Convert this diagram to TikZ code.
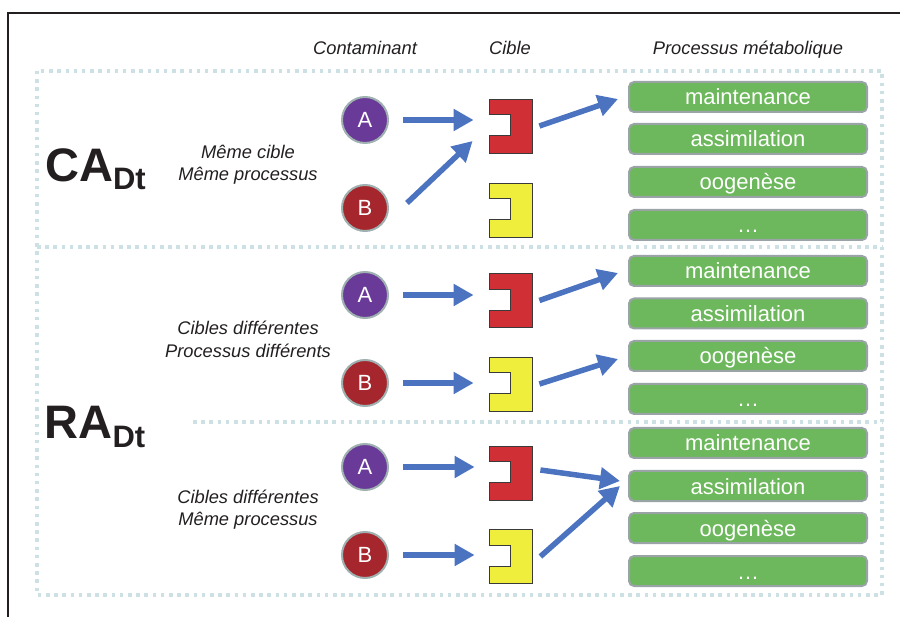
\documentclass[tikz,border=0pt]{standalone}
\usepackage{fontspec}
\setmainfont{Liberation Sans}
\usetikzlibrary{arrows.meta, positioning}

\definecolor{encre}{HTML}{231F20}
\definecolor{pointille}{HTML}{CDE1E4}
\definecolor{violet}{HTML}{6A3A99}
\definecolor{bordeaux}{HTML}{A5272D}
\definecolor{anneau}{HTML}{9FB1B0}
\definecolor{rouge}{HTML}{D12F36}
\definecolor{jaune}{HTML}{F0EE3C}
\definecolor{trait}{HTML}{3A3A3A}
\definecolor{vert}{HTML}{6DB85C}
\definecolor{bordvert}{HTML}{9AA3A6}
\definecolor{bleu}{HTML}{4B73BF}

% notch cut into the left side of a target
\newcommand{\encoche}[1]{%
  \fill[white] ([xshift=-1pt,yshift=-16pt]#1.north west) rectangle ([xshift=22pt,yshift=-37pt]#1.north west);
  \draw[line width=0.8pt, trait] ([yshift=-16pt]#1.north west) -| ([xshift=22pt,yshift=-37pt]#1.north west) -- ([yshift=-37pt]#1.north west);
}

\begin{document}
\begin{tikzpicture}[x=1pt, y=-1pt,
    titre/.style={font=\fontsize{18.3}{22}\selectfont\itshape, text=encre, anchor=base},
    note/.style={font=\fontsize{18.3}{22.5}\selectfont\itshape, text=encre, align=center},
    grand/.style={font=\fontsize{47}{50}\selectfont\bfseries, text=encre, anchor=base west, inner sep=0pt},
    cont/.style={circle, draw=anneau, line width=2pt, minimum size=46pt, inner sep=0pt, text=white, font=\fontsize{22}{24}\selectfont},
    cible/.style={rectangle, draw=trait, line width=0.8pt, minimum width=43pt, minimum height=54pt, inner sep=0pt},
    proc/.style={rectangle, rounded corners=5pt, fill=vert, draw=bordvert, line width=2pt, minimum width=238pt, minimum height=30pt, inner sep=0pt, text=white, font=\fontsize{22}{24}\selectfont, text height=18pt, text depth=2pt},
    fleche/.style={draw=bleu, line width=5.5pt, -{Triangle[length=20pt, width=21pt]}},
    cadre/.style={draw=pointille, line width=3.3pt, dash pattern=on 3.5pt off 4.7pt}]
    \useasboundingbox (0,0) rectangle (900,617);

    % outer frame (top and left sides only)
    \draw[line width=2pt, encre] (900,13) -- (8,13) -- (8,617);

    % dotted frames
    \draw[cadre] (37,71) rectangle (882,595);
    \draw[cadre] (37,247) -- (882,247);
    \draw[cadre] (193,422) -- (882,422);

    % column headings
    \node[titre] (hc) at (365,55) {Contaminant};
    \node[titre] (hi) at (510,55) {Cible};
    \node[titre] (hp) at (748,55) {Processus métabolique};

    % row labels
    \node[grand] (ca) at (45,182) {CA{\fontsize{31}{33}\selectfont\raisebox{-8pt}{Dt}}};
    \node[grand] (ra) at (44.5,439) {RA{\fontsize{31}{33}\selectfont\raisebox{-9pt}{Dt}}};
    \node[note] (n1) at (248,164.5) {Même cible\\Même processus};
    \node[note] (n2) at (248,339.5) {Cibles différentes\\Processus différents};
    \node[note] (n3) at (248,509.5) {Cibles différentes\\Même processus};

    % contaminants
    \node[cont, fill=violet] (cA1) at (365,120) {A};
    \node[cont, fill=bordeaux] (cB1) at (365,208) {B};
    \node[cont, fill=violet] (cA2) at (365,295) {A};
    \node[cont, fill=bordeaux] (cB2) at (365,383) {B};
    \node[cont, fill=violet] (cA3) at (365,467) {A};
    \node[cont, fill=bordeaux] (cB3) at (365,555) {B};

    % targets
    \node[cible, fill=rouge] (tR1) at (510.5,126) {};
    \node[cible, fill=jaune] (tY1) at (510.5,210) {};
    \node[cible, fill=rouge] (tR2) at (510.5,300.5) {};
    \node[cible, fill=jaune] (tY2) at (510.5,384) {};
    \node[cible, fill=rouge] (tR3) at (510.5,473) {};
    \node[cible, fill=jaune] (tY3) at (510.5,556.5) {};
    \encoche{tR1} \encoche{tY1}
    \encoche{tR2} \encoche{tY2}
    \encoche{tR3} \encoche{tY3}

    % metabolic processes
    \node[proc] (m1) at (748,97) {maintenance};
    \node[proc] (a1) at (748,139) {assimilation};
    \node[proc] (o1) at (748,182) {oogenèse};
    \node[proc] (d1) at (748,225) {…};
    \node[proc] (m2) at (748,271) {maintenance};
    \node[proc] (a2) at (748,313.5) {assimilation};
    \node[proc] (o2) at (748,356) {oogenèse};
    \node[proc] (d2) at (748,399) {…};
    \node[proc] (m3) at (748,443) {maintenance};
    \node[proc] (a3) at (748,486) {assimilation};
    \node[proc] (o3) at (748,528) {oogenèse};
    \node[proc] (d3) at (748,571) {…};

    % CA: same target, same process
    \draw[fleche, shorten <=14pt, shorten >=15pt] (cA1) -- (cA1 -| tR1.west);
    \draw[fleche] ([xshift=18pt,yshift=5pt]cB1.east) -- ([xshift=-16pt,yshift=-15pt]tR1.west);
    \draw[fleche] ([xshift=7pt]tR1.east) -- ([xshift=-10pt,yshift=-2pt]m1.west);

    % RA: different targets, different processes
    \draw[fleche, shorten <=14pt, shorten >=15pt] (cA2) -- (cA2 -| tR2.west);
    \draw[fleche, shorten <=14pt, shorten >=15pt] (cB2) -- (cB2 -| tY2.west);
    \draw[fleche] ([xshift=7pt]tR2.east) -- ([xshift=-10pt,yshift=-2pt]m2.west);
    \draw[fleche] ([xshift=7pt]tY2.east) -- ([xshift=-10pt,yshift=-3pt]o2.west);

    % RA: different targets, same process
    \draw[fleche, shorten <=14pt, shorten >=14pt] (cA3) -- (cA3 -| tR3.west);
    \draw[fleche, shorten <=14pt, shorten >=14pt] (cB3) -- (cB3 -| tY3.west);
    \draw[fleche] ([xshift=8pt,yshift=3pt]tR3.east) -- ([xshift=-8pt,yshift=5pt]a3.west);
    \draw[fleche] ([xshift=8pt]tY3.east) -- ([xshift=-8pt]a3.west);
\end{tikzpicture}
\end{document}
